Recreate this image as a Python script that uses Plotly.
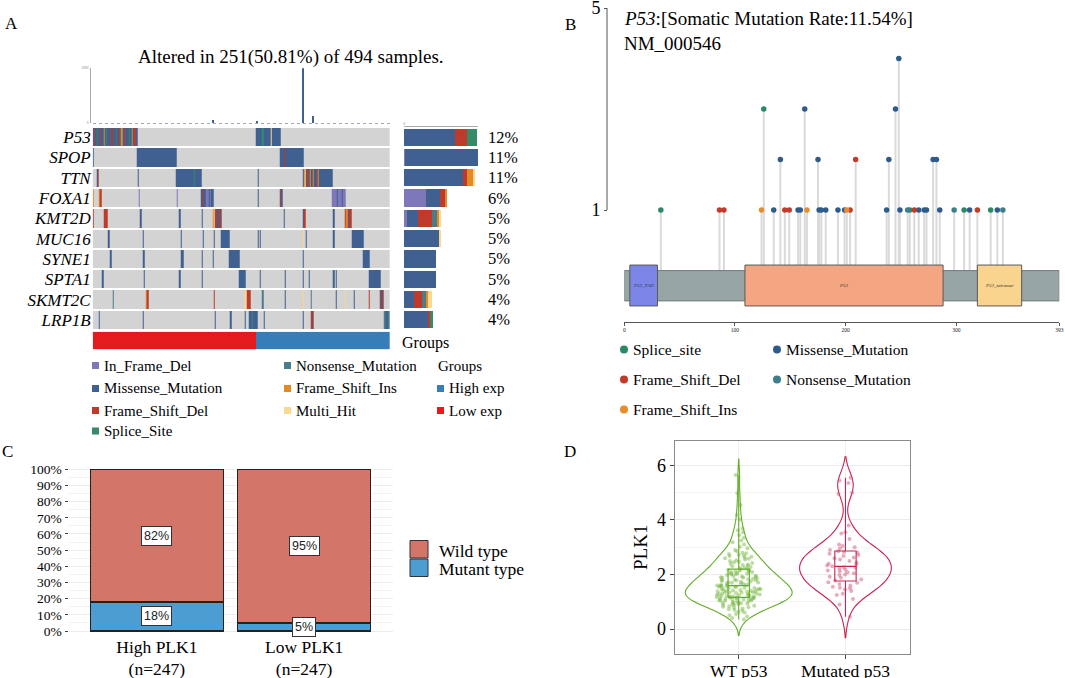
import plotly.graph_objects as go

W, H = 1065, 678
SERIF = "Liberation Serif, Times New Roman, serif"
SANS = "Liberation Sans, Arial, sans-serif"


def px(x):
    return x / W


def py(y):
    return 1 - y / H


# ================= Panel A : oncoplot =================
genes = ["P53", "SPOP", "TTN", "FOXA1", "KMT2D", "MUC16", "SYNE1", "SPTA1", "SKMT2C", "LRP1B"]
gene_pct = ["12%", "11%", "11%", "6%", "5%", "5%", "5%", "5%", "4%", "4%"]
n_samples = 251
n_low = 138

vc_names = ["In_Frame_Del", "Missense_Mutation", "Frame_Shift_Del", "Nonsense_Mutation",
            "Splice_Site", "Frame_Shift_Ins", "Multi_Hit"]
vc_codes = ["IFD", "MIS", "FSD", "NON", "SPL", "FSI", "MUL"]
vc_colors = ["#7E78BA", "#3F6090", "#BE3B2B", "#4B7C8A", "#358A68", "#E48A24", "#F9D98F"]
GRAY = "#D3D3D3"

# (first sample, last sample, variant class) - later entries overwrite earlier ones
p53_seg = [(0, 37, "MIS"), (1, 1, "FSD"), (3, 3, "SPL"), (6, 6, "FSD"), (9, 9, "FSI"), (11, 11, "SPL"),
           (14, 14, "FSD"), (17, 17, "FSD"), (19, 19, "SPL"), (22, 22, "FSD"), (24, 24, "FSI"),
           (27, 27, "FSD"), (30, 30, "SPL"), (33, 33, "FSI"), (35, 35, "FSD"),
           (138, 158, "MIS"), (143, 143, "SPL"), (150, 150, "MUL")]
spop_seg = [(0, 0, "MIS"), (37, 70, "MIS"), (158, 177, "MIS"), (162, 162, "FSD")]
ttn_seg = [(3, 4, "MIS"), (4, 4, "FSD"), (38, 38, "MIS"), (70, 91, "MIS"), (85, 85, "SPL"),
           (139, 139, "MIS"), (177, 202, "MIS"), (178, 178, "FSI"), (179, 179, "MUL"),
           (181, 181, "FSD"), (183, 183, "FSI"), (186, 186, "FSI"), (188, 188, "FSD"), (190, 190, "FSI")]
foxa1_seg = [(0, 0, "FSI"), (5, 5, "FSI"), (6, 7, "FSD"), (39, 39, "IFD"), (71, 71, "IFD"),
             (91, 101, "MIS"), (93, 93, "FSD"), (95, 97, "IFD"), (99, 99, "IFD"),
             (139, 139, "MIS"), (158, 158, "FSD"), (159, 159, "MIS"),
             (202, 213, "IFD"), (206, 206, "MIS"), (210, 210, "MIS")]
kmt2d_seg = [(0, 0, "FSD"), (9, 12, "FSD"), (40, 40, "MIS"), (73, 73, "MIS"), (92, 92, "MIS"),
             (101, 108, "FSD"), (101, 101, "FSI"), (102, 102, "MUL"), (105, 105, "MIS"), (107, 107, "MIS"),
             (161, 161, "MIS"), (177, 179, "FSD"), (177, 177, "MIS"), (203, 203, "MIS"),
             (213, 218, "FSD"), (214, 214, "FSI"), (216, 216, "MIS")]
muc16_seg = [(13, 13, "MIS"), (42, 42, "MIS"), (74, 74, "MIS"), (93, 93, "MIS"), (102, 102, "MIS"),
             (108, 115, "MIS"), (139, 139, "MIS"), (141, 141, "MIS"), (177, 177, "MUL"),
             (180, 180, "MIS"), (203, 203, "MIS"), (219, 228, "MIS")]
syne1_seg = [(14, 15, "MIS"), (42, 43, "MIS"), (74, 76, "MIS"), (92, 92, "MIS"), (101, 101, "MIS"),
             (115, 123, "MIS"), (177, 177, "MIS"), (228, 233, "MIS")]
spta1_seg = [(8, 8, "MIS"), (43, 43, "MIS"), (73, 73, "MIS"), (92, 92, "MIS"), (123, 128, "MIS"),
             (141, 141, "MIS"), (162, 162, "MIS"), (177, 177, "MIS"), (182, 182, "MIS"),
             (203, 203, "MIS"), (205, 205, "MIS"), (233, 242, "MIS")]
skmt2c_seg = [(17, 17, "NON"), (45, 45, "FSI"), (46, 46, "FSD"), (102, 102, "FSD"), (128, 129, "MUL"),
              (130, 132, "FSD"), (143, 143, "NON"), (162, 162, "MIS"), (177, 177, "MUL"),
              (184, 184, "NON"), (205, 205, "MIS"), (213, 213, "MUL"), (220, 220, "MIS"),
              (233, 233, "FSD"), (242, 242, "FSD"), (243, 244, "MIS"), (245, 245, "FSD")]
lrp1b_seg = [(5, 5, "MIS"), (42, 42, "MIS"), (103, 103, "MIS"), (116, 116, "MIS"), (128, 128, "MIS"),
             (132, 138, "MIS"), (134, 134, "NON"), (144, 144, "MIS"), (177, 177, "MIS"),
             (184, 186, "FSD"), (185, 185, "MIS"), (246, 250, "NON"), (247, 248, "MIS")]

# mutation counts per gene, stacked in the side bar
ifd_counts = [0, 1, 0, 17, 2, 0, 0, 0, 0, 0]
mis_counts = [40, 57, 46, 11, 9, 28, 25, 25, 8, 19]
fsd_counts = [9, 0, 3, 4, 11, 0, 0, 0, 6, 1]
non_counts = [0, 0, 0, 0, 4, 0, 0, 0, 4, 0]
spl_counts = [8, 0, 0, 0, 0, 0, 0, 0, 0, 3]
fsi_counts = [0, 0, 5, 2, 2, 0, 0, 0, 1, 0]
mul_counts = [0, 0, 2, 0, 1, 1, 0, 0, 3, 0]

# top panel: mutation burden of the few visible samples
tmb_sample = [101, 138, 177, 185]
tmb_value = [6, 4, 100, 13]

group_names = ["High exp", "Low exp"]
group_colors = ["#377EB8", "#E41A1C"]

# ================= Panel B : lollipop =================
mut_pos = [33, 86, 90, 124, 126, 135, 141, 145, 149, 157, 159, 163, 165, 175, 176, 178, 182, 193,
           199, 201, 204, 209, 237, 239, 245, 248, 249, 256, 258, 262, 266, 271, 273, 279, 282,
           285, 298, 307, 312, 319, 331, 337, 342]
mut_count = [1, 1, 1, 1, 3, 1, 2, 1, 1, 1, 1, 3, 1, 2, 1, 1, 1, 1,
             1, 1, 1, 2, 1, 2, 3, 4, 1, 1, 1, 1, 1, 1, 1, 2, 2,
             1, 1, 1, 1, 1, 1, 1, 1]
mut_type = ["SPL", "FSD", "FSD", "FSI", "SPL", "MIS", "MIS", "FSD", "FSD", "MIS", "MIS", "MIS", "FSI",
            "MIS", "MIS", "MIS", "MIS", "MIS", "MIS", "FSI", "FSD", "FSD", "MIS", "MIS", "MIS", "MIS",
            "MIS", "NON", "SPL", "FSD", "MIS", "MIS", "MIS", "MIS", "MIS", "MIS", "NON", "SPL", "MIS",
            "FSD", "SPL", "MIS", "NON"]
lol_codes = ["SPL", "MIS", "FSD", "NON", "FSI"]
lol_names = ["Splice_site", "Missense_Mutation", "Frame_Shift_Del", "Nonsense_Mutation", "Frame_Shift_Ins"]
lol_colors = ["#2B8A66", "#2E5B8C", "#C43A2A", "#3D7E8A", "#E88B2A"]

protein_len = 393
dom_names = ["P53_TAD", "P53", "P53_tetramer"]
dom_start = [5, 109, 319]
dom_end = [30, 288, 359]
dom_colors = ["#7B86E8", "#F4A582", "#F8D48E"]

# ================= Panel C : stacked proportions =================
c_groups = ["High PLK1<br>(n=247)", "Low PLK1<br>(n=247)"]
mutant_pct = [18, 5]
wild_pct = [82, 95]

# ================= Panel D : PLK1 expression =================
wt_plk1 = [0.35, 0.41, 0.46, 0.51, 0.55, 0.61, 0.64, 0.67, 0.7, 0.73, 0.76, 0.78, 0.8, 0.82, 0.84, 0.86, 0.88,
           0.89, 0.9, 0.92, 0.93, 0.95, 0.96, 0.97, 0.98, 1.0, 1.01, 1.02, 1.04, 1.05, 1.06, 1.07, 1.08,
           1.09, 1.1, 1.11, 1.12, 1.13, 1.14, 1.14, 1.15, 1.16,
           1.17, 1.18, 1.19, 1.2, 1.2, 1.21, 1.22, 1.23, 1.24, 1.25, 1.26, 1.27, 1.28, 1.29, 1.3, 1.31,
           1.32, 1.33, 1.34, 1.35, 1.36, 1.37, 1.38, 1.39, 1.4, 1.41, 1.42, 1.43, 1.44, 1.45, 1.46, 1.47,
           1.48, 1.5, 1.51, 1.52, 1.54, 1.55, 1.56, 1.57, 1.58, 1.59,
           1.6, 1.61, 1.62, 1.63, 1.65, 1.66, 1.67, 1.68, 1.7, 1.71, 1.72, 1.74, 1.75, 1.76, 1.78, 1.79,
           1.8, 1.82, 1.83, 1.85, 1.86, 1.88, 1.89, 1.9, 1.92, 1.93, 1.95, 1.96, 1.98, 2.0, 2.01, 2.03,
           2.04, 2.06, 2.08, 2.09, 2.1, 2.12, 2.14, 2.15, 2.17, 2.19,
           2.21, 2.23, 2.25, 2.28, 2.3, 2.32, 2.35, 2.37, 2.4, 2.42, 2.45, 2.47, 2.5, 2.52, 2.55, 2.58,
           2.6, 2.62, 2.65, 2.68, 2.7, 2.72, 2.75, 2.78, 2.8,
           2.85, 2.9, 2.96, 3.02, 3.1, 3.18, 3.25, 3.35, 3.45, 3.55, 3.62, 3.7,
           4.02, 4.18, 4.55, 4.98, 5.65]
mut_plk1 = [0.45, 0.9, 1.1, 1.25, 1.3, 1.4, 1.45, 1.5, 1.52, 1.55, 1.6, 1.65, 1.7, 1.72,
            1.78, 1.82, 1.88, 1.92, 1.98, 2.0, 2.05, 2.08, 2.12, 2.15, 2.18, 2.22, 2.25, 2.27,
            2.3, 2.33, 2.38, 2.4, 2.45, 2.5, 2.55, 2.6, 2.62, 2.68, 2.72, 2.76, 2.8, 2.83,
            2.85, 2.9, 2.95, 3.0, 3.05, 3.1, 3.3, 3.5, 3.55, 3.8, 4.95, 5.0, 5.35, 5.45, 5.55]
d_groups = ["WT p53", "Mutated p53"]

fig = go.Figure()
shapes = []
ann = []


def text(x, y, s, size, font=SERIF, xanchor="left", color="black", **kw):
    ann.append(dict(x=px(x), y=py(y), xref="paper", yref="paper", text=s, showarrow=False,
                    xanchor=xanchor, yanchor="middle", font=dict(family=font, size=size, color=color), **kw))


# ---------- A: heatmap ----------
seg_by_gene = [p53_seg, spop_seg, ttn_seg, foxa1_seg, kmt2d_seg, muc16_seg, syne1_seg,
               spta1_seg, skmt2c_seg, lrp1b_seg]
code_of = {c: i + 1 for i, c in enumerate(vc_codes)}
z = [[0] * n_samples for _ in genes]
for gi, segs in enumerate(seg_by_gene):
    for s0, s1, t in segs:
        for s in range(s0, s1 + 1):
            z[gi][s] = code_of[t]

cols = [GRAY] + vc_colors
cs = []
for i, c in enumerate(cols):
    cs += [[i / len(cols), c], [(i + 1) / len(cols), c]]
fig.add_trace(go.Heatmap(z=z, x=list(range(n_samples)), y=list(range(len(genes))),
                         colorscale=cs, zmin=-0.5, zmax=len(cols) - 0.5, showscale=False,
                         ygap=2, xaxis="x", yaxis="y", hoverinfo="skip"))

# group annotation bar
gz = [[1] * n_low + [0] * (n_samples - n_low)]
fig.add_trace(go.Heatmap(z=gz, x=list(range(n_samples)), colorscale=[[0, group_colors[0]], [0.5, group_colors[0]],
                                                                      [0.5, group_colors[1]], [1, group_colors[1]]],
                         zmin=-0.5, zmax=1.5, showscale=False, xaxis="x3", yaxis="y3", hoverinfo="skip"))

# top mutation burden bars
fig.add_trace(go.Bar(x=tmb_sample, y=tmb_value, width=0.9, marker=dict(color=vc_colors[1], line_width=0),
                     xaxis="x2", yaxis="y2"))
shapes.append(dict(type="line", xref="paper", yref="paper", x0=px(93), x1=px(390), y0=py(123.5), y1=py(123.5),
                   line=dict(color="#9AA8B8", width=1, dash="dot")))

# side bars
for cnt, col in zip([ifd_counts, mis_counts, fsd_counts, non_counts, spl_counts, fsi_counts, mul_counts],
                    vc_colors):
    fig.add_trace(go.Bar(y=list(range(len(genes))), x=cnt, orientation="h", width=0.85,
                         marker=dict(color=col, line_width=0), xaxis="x4", yaxis="y4"))
for i, p in enumerate(gene_pct):
    ann.append(dict(x=px(486), y=i, xref="paper", yref="y4", text=p, showarrow=False, xanchor="left",
                    font=dict(family=SERIF, size=16.5, color="black")))

text(3, 23.5, "A", 17)
text(291, 57, "Altered in 251(50.81%) of 494 samples.", 19, xanchor="center")
text(400, 343.5, "Groups", 16)

# legend A
leg_cols = [(92, [0, 1, 2, 4]), (284, [3, 5, 6])]
rows_y = [365.5, 388.5, 410.5, 431]
for x0, idxs in leg_cols:
    for r, k in enumerate(idxs):
        shapes.append(dict(type="rect", xref="paper", yref="paper", x0=px(x0), x1=px(x0 + 7),
                           y0=py(rows_y[r] + 3.5), y1=py(rows_y[r] - 3.5), fillcolor=vc_colors[k], line_width=0))
        text(x0 + 10, rows_y[r], vc_names[k], 15)
text(436, rows_y[0], "Groups", 15)
for r, (g, c) in enumerate(zip(group_names, group_colors)):
    shapes.append(dict(type="rect", xref="paper", yref="paper", x0=px(437), x1=px(444),
                       y0=py(rows_y[r + 1] + 3.5), y1=py(rows_y[r + 1] - 3.5), fillcolor=c, line_width=0))
    text(447, rows_y[r + 1], g, 15)

# ---------- B: lollipop ----------
STEM_BASE = -0.2
sx, sy = [], []
for p, c in zip(mut_pos, mut_count):
    sx += [p, p, None]
    sy += [STEM_BASE, c, None]
fig.add_trace(go.Scatter(x=sx, y=sy, mode="lines", line=dict(color="#DADADA", width=2),
                         xaxis="x5", yaxis="y5", hoverinfo="skip"))
for code, col in zip(lol_codes, lol_colors):
    xs = [p for p, t in zip(mut_pos, mut_type) if t == code]
    ys = [c for c, t in zip(mut_count, mut_type) if t == code]
    fig.add_trace(go.Scatter(x=xs, y=ys, mode="markers", marker=dict(color=col, size=5.5),
                             xaxis="x5", yaxis="y5", cliponaxis=False))

shapes.append(dict(type="rect", xref="x5", yref="y5", x0=0, x1=protein_len, y0=-0.80, y1=-0.20,
                   fillcolor="#97A5A5", line=dict(color="#6F7B7B", width=1), layer="above"))
for nm, s0, s1, col in zip(dom_names, dom_start, dom_end, dom_colors):
    shapes.append(dict(type="rect", xref="x5", yref="y5", x0=s0, x1=s1, y0=-0.90, y1=-0.09,
                       fillcolor=col, line=dict(color="#5A5A5A", width=1), layer="above"))
    ann.append(dict(x=(s0 + s1) / 2, y=-0.495, xref="x5", yref="y5", text=f"<i>{nm}</i>", showarrow=False,
                    font=dict(family=SERIF, size=5, color="#333")))
shapes.append(dict(type="line", xref="paper", yref="y5", x0=px(607), x1=px(607), y0=1, y1=5,
                   line=dict(color="#555", width=1)))

text(563, 24, "B", 17)
text(622, 18, "<i>P53</i>:[Somatic Mutation Rate:11.54%]", 19)
text(622, 43, "NM_000546", 19)

leg_b = [(624, 349.5, 0), (777, 349.5, 1), (624, 379.5, 2), (777, 379.5, 3), (624, 409.5, 4)]
for x0, y0, k in leg_b:
    shapes.append(dict(type="circle", xref="paper", yref="paper", x0=px(x0 - 4), x1=px(x0 + 4),
                       y0=py(y0 + 4), y1=py(y0 - 4), fillcolor=lol_colors[k], line_width=0))
    text(x0 + 7, y0, lol_names[k], 15.5)

# ---------- C: stacked bars ----------
fig.add_trace(go.Bar(x=[0, 1], y=mutant_pct, width=0.9, name="Mutant type",
                     marker=dict(color="#4B9DD2", line=dict(color="#222", width=1.2)), xaxis="x6", yaxis="y6"))
fig.add_trace(go.Bar(x=[0, 1], y=wild_pct, width=0.9, name="Wild type",
                     marker=dict(color="#D4756A", line=dict(color="#222", width=1.2)), xaxis="x6", yaxis="y6"))
for i in range(2):
    for val, base in [(mutant_pct[i], 0), (wild_pct[i], mutant_pct[i])]:
        ann.append(dict(x=i, y=base + val / 2, xref="x6", yref="y6", text=f"{val}%", showarrow=False,
                        bgcolor="white", bordercolor="#333", borderwidth=1, borderpad=2,
                        font=dict(family=SANS, size=12.5, color="#222")))
text(0, 451, "C", 17)
for r, (nm, col) in enumerate([("Wild type", "#D4756A"), ("Mutant type", "#4B9DD2")]):
    yc = 549 + r * 18.5
    shapes.append(dict(type="rect", xref="paper", yref="paper", x0=px(410), x1=px(428),
                       y0=py(yc + 9), y1=py(yc - 8.5), fillcolor=col, line=dict(color="#333", width=1)))
    text(437, yc + 1.5, nm, 17.5)

# ---------- D: violins ----------
d_line = ["#63AD28", "#C8244E"]
d_pts = ["rgba(110,178,55,0.45)", "rgba(210,90,125,0.5)"]
d_width = [1.0, 0.86]
d_jitter = [0.42, 0.46]
for name, vals, lc, pc, wd, jt in zip(d_groups, [wt_plk1, mut_plk1], d_line, d_pts, d_width, d_jitter):
    fig.add_trace(go.Violin(x=[name] * len(vals), y=vals, width=wd, line=dict(color=lc, width=1.1),
                            fillcolor="rgba(0,0,0,0)", points="all", jitter=jt, pointpos=0,
                            marker=dict(color=pc, size=4, line_width=0), spanmode="soft",
                            box_visible=False, meanline_visible=False, xaxis="x7", yaxis="y7", hoverinfo="skip"))
    fig.add_trace(go.Box(x=[name] * len(vals), y=vals, width=0.2, boxpoints=False, whiskerwidth=0,
                         line=dict(color=lc, width=1.1), fillcolor="rgba(0,0,0,0)", xaxis="x7", yaxis="y7"))
text(562, 451, "D", 17)

# ---------- layout ----------
hidden = dict(visible=False, showgrid=False, zeroline=False)
serif_tick = dict(family=SERIF, color="black")

fig.update_layout(
    template="none",
    width=W, height=H, margin=dict(l=0, r=0, t=0, b=0, autoexpand=False),
    paper_bgcolor="white", plot_bgcolor="white", showlegend=False,
    barmode="stack", violinmode="overlay", boxmode="overlay",
    xaxis=dict(hidden, domain=[px(92.7), px(390)], range=[-0.5, n_samples - 0.5], anchor="y"),
    yaxis=dict(domain=[py(330), py(127)], range=[len(genes) - 0.5, -0.5], anchor="x",
               tickvals=list(range(len(genes))), ticktext=[f"<i>{g}</i>" for g in genes],
               tickfont=dict(serif_tick, size=17), showgrid=False, zeroline=False, ticks="",
               showline=False, ticklabelstandoff=1),
    xaxis2=dict(hidden, domain=[px(92.7), px(390)], range=[-0.5, n_samples - 0.5], anchor="y2"),
    yaxis2=dict(domain=[py(123.3), py(68.3)], range=[0, 100], anchor="free", position=px(90),
                showline=True, linecolor="#AAAAAA", linewidth=1, showgrid=False, zeroline=False,
                tickvals=[0, 100], ticktext=["0", "2000"], tickfont=dict(size=3, color="#777"),
                ticks="", ticklabelstandoff=1, ticklabeloverflow="allow"),
    xaxis3=dict(hidden, domain=[px(92.7), px(390)], range=[-0.5, n_samples - 0.5], anchor="y3"),
    yaxis3=dict(hidden, domain=[py(349.3), py(331.7)], anchor="x3"),
    xaxis4=dict(domain=[px(404), px(478)], range=[0, 58], anchor="y4", side="top",
                showline=True, linecolor="#AAAAAA", linewidth=1, showgrid=False, zeroline=False,
                tickvals=[0], ticktext=["0"], tickfont=dict(size=3, color="#777"), ticks=""),
    yaxis4=dict(hidden, domain=[py(330), py(127)], range=[len(genes) - 0.5, -0.5], anchor="x4"),
    xaxis5=dict(domain=[px(624.3), px(1059.3)], range=[0, protein_len], anchor="y5",
                showline=True, linecolor="#555", linewidth=1, showgrid=False, zeroline=False,
                tickvals=[0, 100, 200, 300, protein_len], tickfont=dict(family=SERIF, size=5.5, color="#222"),
                ticks="outside", ticklen=3, tickcolor="#555", ticklabeloverflow="allow"),
    yaxis5=dict(domain=[py(321.7), py(7)], range=[1 - 111.7 / 50.5, 5.02], anchor="free", position=px(607),
                showline=False, showgrid=False, zeroline=False, tickvals=[1, 5],
                tickfont=dict(serif_tick, size=18), ticks="outside", ticklen=3, tickcolor="#555",
                ticklabeloverflow="allow"),
    xaxis6=dict(domain=[px(68.5), px(392.5)], range=[-0.6, 1.6], anchor="y6", tickvals=[0, 1],
                ticktext=c_groups, tickfont=dict(serif_tick, size=17.5), showgrid=False, zeroline=False,
                showline=False, ticks="", ticklabelstandoff=-5, ticklabeloverflow="allow"),
    yaxis6=dict(domain=[py(639.1), py(461.2)], range=[-5, 105], anchor="x6", tick0=0, dtick=10,
                ticksuffix="%", tickfont=dict(serif_tick, size=13.5), ticks="outside", ticklen=3,
                tickcolor="#444", showgrid=True, gridcolor="#EBEBEB", gridwidth=1, zeroline=False,
                showline=False,
                minor=dict(dtick=5, tick0=0, showgrid=True, gridcolor="#F2F2F2", ticks="")),
    xaxis7=dict(domain=[px(674.7), px(909.5)], type="category", categoryorder="array",
                categoryarray=d_groups, range=[-0.6, 1.6], anchor="y7",
                showline=True, mirror=True, linecolor="#8A8A8A", linewidth=1,
                showgrid=True, gridcolor="#F0F0F0", zeroline=False,
                ticks="outside", ticklen=4, tickcolor="#444", tickfont=dict(serif_tick, size=17.5),
                ticklabelstandoff=-3, ticklabeloverflow="allow"),
    yaxis7=dict(domain=[py(653.7), py(440.8)], range=[-0.9, 6.9], anchor="x7",
                showline=True, mirror=True, linecolor="#8A8A8A", linewidth=1,
                tick0=0, dtick=2, showgrid=True, gridcolor="#EBEBEB", zeroline=False,
                minor=dict(dtick=1, tick0=0, showgrid=True, gridcolor="#F4F4F4", ticks=""),
                ticks="outside", ticklen=4, tickcolor="#444", tickfont=dict(serif_tick, size=18),
                title=dict(text="PLK1", font=dict(family=SERIF, size=19, color="black"), standoff=4)),
    shapes=shapes,
    annotations=ann,
)

# the page body has a default 8px margin; remove it so the figure fills the window exactly
fig.write_html("out.html", config={"displayModeBar": False},
               post_script="document.body.style.margin='0';")
